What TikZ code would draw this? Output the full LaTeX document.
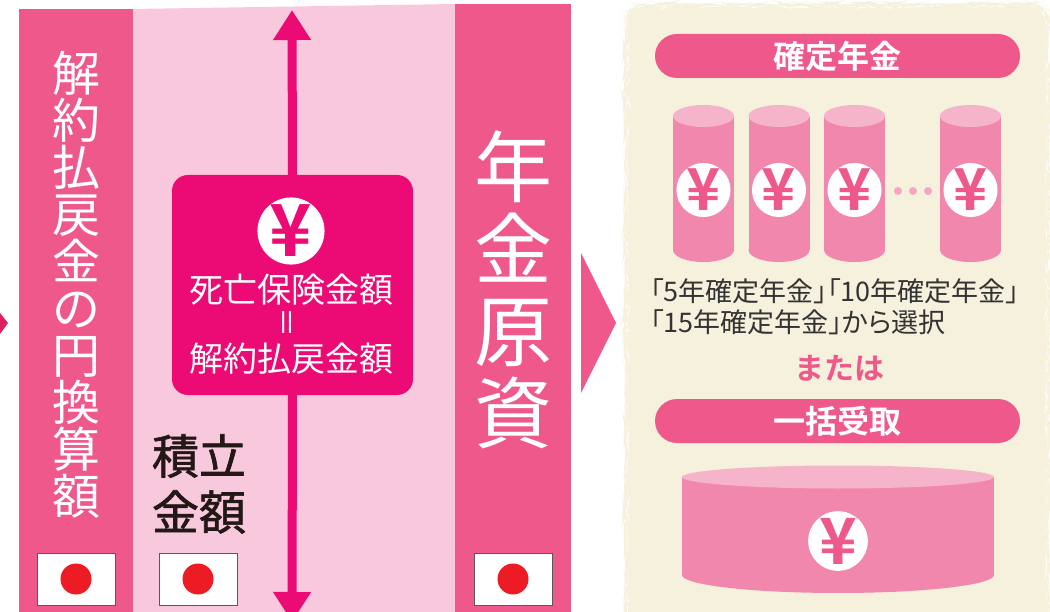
\documentclass[tikz,border=0pt]{standalone}
\usepackage{fontspec}
\setmainfont{Noto Sans CJK JP}[BoldFont={Noto Sans CJK JP Bold}]
\newfontfamily\medfont{Noto Sans CJK JP}[FakeBold=1.4]
\newfontfamily\paltfont{Noto Sans CJK JP}[RawFeature=+palt]
\usepackage{tikz}
\usetikzlibrary{arrows.meta,decorations.pathmorphing}
\definecolor{rosebar}{HTML}{EF588A}
\definecolor{blush}{HTML}{F8C9DC}
\definecolor{deathpink}{HTML}{EC0A74}
\definecolor{cream}{HTML}{F6F1DC}
\definecolor{coinbody}{HTML}{F287AE}
\definecolor{cointop}{HTML}{F6B4CA}
\definecolor{coindot}{HTML}{F4A6C3}
\definecolor{inkgray}{HTML}{333333}
\definecolor{inkblack}{HTML}{231815}
\definecolor{flagred}{HTML}{ED1C24}
\definecolor{edgered}{HTML}{DE1F5E}

\begin{document}
\begin{tikzpicture}[
  x=1pt, y=-1pt,
  vtext/.style={text=white, align=center, inner sep=0pt},
  magbox/.style={fill=deathpink, rounded corners=16pt, minimum width=241pt, minimum height=220pt, inner sep=0pt},
  yen/.style={circle, fill=white, inner sep=0pt, minimum size=54pt, text=rosebar,
              font=\bfseries\fontsize{58}{58}\selectfont},
  flag/.style={draw=black!65, line width=0.8pt, fill=white, minimum width=78pt, minimum height=52pt, inner sep=0pt,
               path picture={\fill[flagred] (path picture bounding box.center) circle (15.5pt);}},
  pill/.style={fill=rosebar, rounded corners=22pt, minimum width=365pt, minimum height=44pt, text=white,
               font=\bfseries\fontsize{32}{32}\selectfont},
  arr/.style={line width=9pt, color=deathpink, -{Triangle[length=30pt,width=36pt]}},
  note/.style={text=inkgray, font=\paltfont\fontsize{27}{30}\selectfont, inner sep=0pt, anchor=west}
]
\useasboundingbox (0,0) rectangle (1050,612);
\clip (0,0) rectangle (1050,612);

% columns
\fill[edgered] (0,313) -- (8,323) -- (0,334) -- cycle;
\fill[rosebar] (19,9) rectangle (133,620);
\fill[blush] (133,9) -- (455,4) -- (455,620) -- (133,620) -- cycle;
\fill[rosebar] (455,4) rectangle (571,620);

\node[vtext, font=\fontsize{48}{47}\selectfont] (refund) at (76,285) {解\\約\\払\\戻\\金\\の\\円\\換\\算\\額};
\node[vtext, font=\fontsize{78}{82}\selectfont] (fund) at (513,290) {年\\金\\原\\資};
\node[align=center, text=inkblack, inner sep=0pt, font=\medfont\fontsize{47}{56}\selectfont] (saved) at (199,484) {積立\\金額};

% death benefit box and arrows
\coordinate (uptip) at (292,10);
\coordinate (downtip) at (292,622);
\node[magbox] (dbox) at (292.5,285) {};
\draw[arr] (dbox.north) -- (uptip);
\draw[arr] (dbox.south) -- (downtip);
\node[yen, minimum size=60pt, text=deathpink, font=\bfseries\fontsize{72}{72}\selectfont] (dyen) at (291,231) {¥};
\node[text=white, inner sep=0pt, font=\fontsize{34}{35}\selectfont] (dsum) at (291,290) {死亡保険金額};
\node[text=white, inner sep=0pt, rotate=90, font=\fontsize{30}{30}\selectfont] (deq) at (291,323) {＝};
\node[text=white, inner sep=0pt, font=\fontsize{34}{35}\selectfont] (dref) at (291,359) {解約払戻金額};

% flags
\node[flag] (flag1) at (76,579) {};
\node[flag] (flag2) at (198,579) {};
\node[flag] (flag3) at (513,579) {};

\fill[rosebar] (581,253) -- (616,323) -- (581,393) -- cycle;

% payout panel
\fill[cream, rounded corners=18pt, decorate, decoration={random steps, segment length=3pt, amplitude=0.6pt}]
  (626,5) rectangle (1048,640);

\node[pill] (annuity) at (837.5,56) {確定年金};
\foreach \cx [count=\i] in {703.5,779,854.5,970.5} {
  \fill[coinbody] (\cx-30.5,116) rectangle (\cx+30.5,250);
  \fill[coinbody] (\cx,250) ellipse (30.5 and 12);
  \fill[cointop] (\cx,116) ellipse (30.5 and 11);
  \node[yen] (coin\i) at (\cx,190) {¥};
}
\foreach \dx in {898,913,928}
  \fill[coindot] (\dx,191) circle (4);

\node[note] (terms1) at (650,291) {「5年確定年金」「10年確定年金」};
\node[note] (terms2) at (650,322) {「15年確定年金」から選択};
\node[text=rosebar, inner sep=0pt, font=\bfseries\fontsize{30}{30}\selectfont] (orword) at (839,368) {または};

\node[pill] (lump) at (837.5,421) {一括受取};
\fill[coinbody] (682,477) rectangle (994,575);
\fill[coinbody] (838,575) ellipse (156 and 18);
\fill[cointop] (838,477) ellipse (156 and 11.5);
\node[yen, minimum size=53pt, font=\bfseries\fontsize{64}{64}\selectfont] (lumpyen) at (838,541) {¥};
\end{tikzpicture}
\end{document}
